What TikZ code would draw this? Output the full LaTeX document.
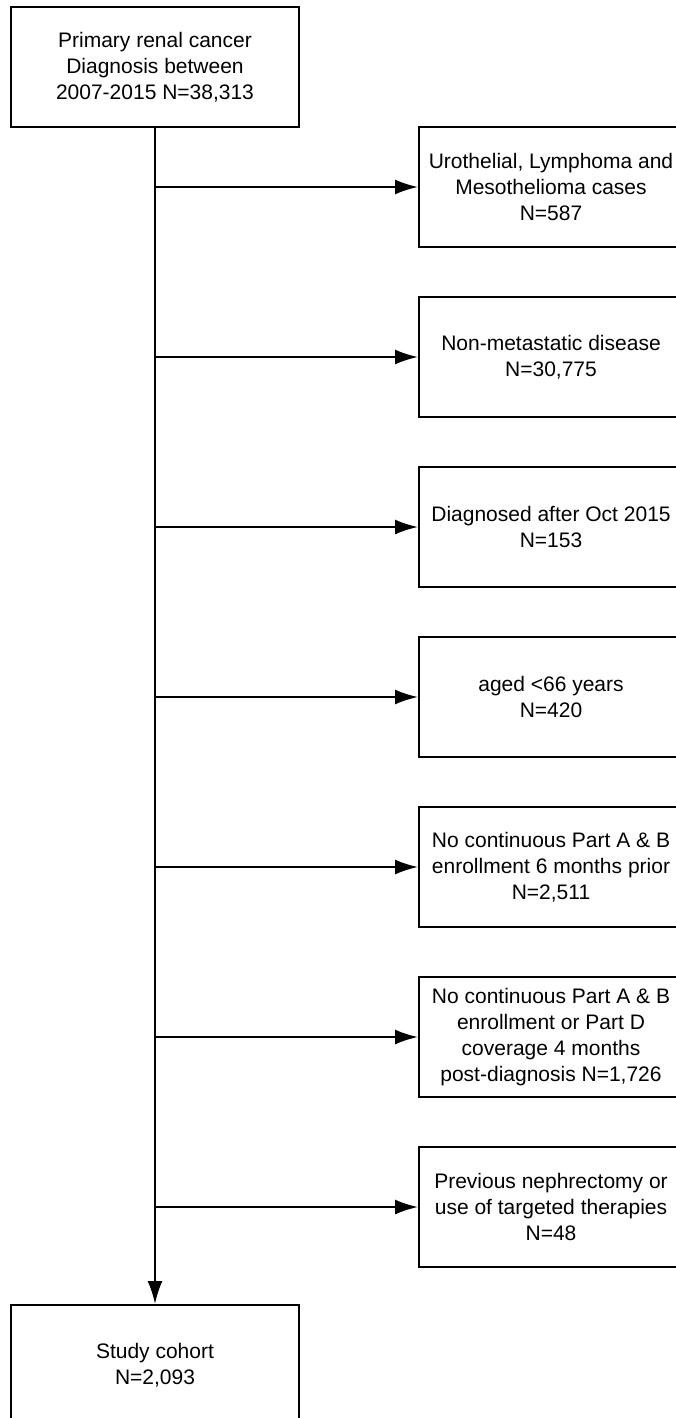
\documentclass[tikz,border=0pt]{standalone}
\usepackage{fontspec}
\setmainfont{Liberation Sans}
\usetikzlibrary{arrows.meta,positioning}
\tikzset{
  basic/.style    = {draw, line width=2pt, rectangle, align=center, inner sep=0pt,
                     font=\fontsize{21}{26}\selectfont, minimum height=120pt},
  stage/.style    = {basic, minimum width=288pt},
  excluded/.style = {basic, minimum width=264pt}
}

\begin{document}
\begin{tikzpicture}[>={Latex[length=23pt,width=15pt]}, line width=2pt]
\useasboundingbox (0,0) rectangle (676pt,-1418pt);

% main flow, start and end
\node [stage] (dx) at (155pt,-67pt) {Primary renal cancer\\ Diagnosis between\\ 2007-2015 N=38,313};
\node [stage, below=1176pt of dx] (cohort) {Study cohort\\ N=2,093};

% exclusions, stacked on the right
\node [excluded] (ex1) at (551pt,-187pt) {Urothelial, Lymphoma and\\ Mesothelioma cases\\ N=587};
\node [excluded, below=48pt of ex1] (ex2) {Non-metastatic disease\\ N=30,775};
\node [excluded, below=48pt of ex2] (ex3) {Diagnosed after Oct 2015\\ N=153};
\node [excluded, below=48pt of ex3] (ex4) {aged <66 years\\ N=420};
\node [excluded, below=48pt of ex4] (ex5) {No continuous Part A \& B\\ enrollment 6 months prior\\ N=2,511};
\node [excluded, below=48pt of ex5] (ex6) {No continuous Part A \& B\\ enrollment or Part D\\ coverage 4 months\\ post-diagnosis N=1,726};
\node [excluded, below=48pt of ex6] (ex7) {Previous nephrectomy or\\ use of targeted therapies\\ N=48};

% trunk and branches
\draw [->] (dx) -- (cohort);
\foreach \value in {1,...,7}
  \draw [->] (dx.south |- ex\value.west) -- (ex\value.west);

\end{tikzpicture}
\end{document}
